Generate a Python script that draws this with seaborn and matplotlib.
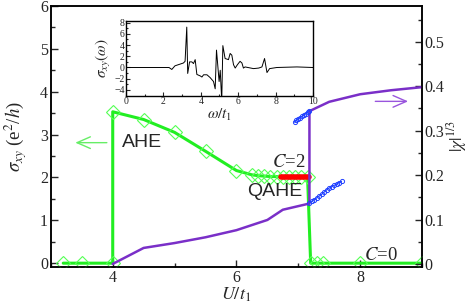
import matplotlib
matplotlib.use("Agg")
import matplotlib.pyplot as plt
import numpy as np
import pandas as pd
import seaborn as sns

sns.set_theme(style="ticks")
plt.rcParams["font.family"] = ["Liberation Serif", "DejaVu Serif"]
plt.rcParams["mathtext.fontset"] = "stix"
plt.rcParams["xtick.direction"] = "in"
plt.rcParams["ytick.direction"] = "in"

# sigma_xy vs U/t1 (left axis)
sig_U = [3.2, 3.5, 4.0, 4.0, 4.5, 5.0, 5.5, 6.0, 6.25, 6.35, 6.45, 6.55, 6.65,
         6.75, 6.85, 6.95, 7.05, 7.15, 7.2, 7.3, 7.4, 8.0, 9.0]
sig_v = [0, 0, 0, 3.53, 3.35, 3.05, 2.61, 2.16, 2.06, 2.04, 2.03, 2.02, 2.02,
         2.01, 2.01, 2.0, 2.0, 2.0, 0, 0, 0, 0, 0]
# QAHE plateau C=2
qahe_U = [6.72, 7.17]
qahe_v = [2.0, 2.0]

# |chi|^(1/3) (right axis)
chi_U = [4.0, 4.5, 5.0, 5.5, 6.0, 6.5, 6.75, 7.18, 7.18, 7.5, 8.0, 8.5, 9.0]
chi_v = [0.0, 0.036, 0.047, 0.060, 0.076, 0.099, 0.122, 0.136, 0.344, 0.365,
         0.382, 0.391, 0.398]
up_U = [6.94, 6.97, 7.0, 7.03, 7.06, 7.09, 7.12, 7.15, 7.18]
up_v = [0.319, 0.323, 0.326, 0.329, 0.332, 0.335, 0.338, 0.341, 0.344]
lo_U = [7.18, 7.22, 7.26, 7.30, 7.34, 7.38, 7.42, 7.46, 7.50, 7.54, 7.58,
        7.62, 7.66, 7.70]
lo_v = [0.137, 0.141, 0.145, 0.149, 0.153, 0.157, 0.162, 0.167, 0.171, 0.174,
        0.177, 0.180, 0.183, 0.186]

# inset sigma_xy(omega)
w = [0, 2.3, 2.45, 2.62, 3.07, 3.16, 3.25, 3.3, 3.4, 3.52, 3.61, 3.70, 3.79,
     3.97, 4.06, 4.15, 4.33, 4.5, 4.68, 4.77, 4.84, 4.98, 5.04, 5.12, 5.18,
     5.3, 5.48, 5.57, 5.66, 5.75, 5.84, 5.96, 6.1, 6.2, 6.28, 6.37, 6.82,
     7.1, 7.27, 7.41, 7.54, 7.68, 8.07, 9.14, 10]
s_w = [0, 0, -0.35, 0.3, 0.8, 1.1, 7.2, -1.06, 1.0, 1.0, 0.7, 1.4, -1.24,
       -1.5, -1.7, -1.3, -1.3, -1.8, -2.5, -3.8, 3.1, -2.5, -0.5, -6.0, 3.9,
       1.6, 1.4, 2.5, 2.2, 0.5, -0.1, 0.5, 1.1, 0.8, -0.1, 0.1, -0.2,
       -0.1, 0.1, 1.6, -0.9, -0.2, 0, 0.1, 0]

green = "#22ee22"
purple = "#7a2fc8"

fig = plt.figure(figsize=(4.71, 3.08), dpi=100)
ax = fig.add_axes([0.108, 0.133, 0.788, 0.848])
ax2 = ax.twinx()

sns.lineplot(x=sig_U, y=sig_v, ax=ax, sort=False, estimator=None, color=green,
             linewidth=2.2, marker="D", markersize=7.5, mfc="none",
             mec="#55ff55", mew=0.8, zorder=3)
sns.lineplot(x=qahe_U, y=qahe_v, ax=ax, sort=False, estimator=None,
             color="red", linewidth=4, zorder=4)

sns.lineplot(x=chi_U, y=chi_v, ax=ax2, sort=False, estimator=None,
             color=purple, linewidth=1.8, zorder=2)
for xx, yy in [(up_U, up_v), (lo_U, lo_v)]:
    sns.lineplot(x=xx, y=yy, ax=ax2, sort=False, estimator=None, color="#2040ff",
                 linewidth=0.8, marker="o", markersize=3, mfc="none",
                 mec="#2040ff", mew=0.7, zorder=3)

ax.set_xlim(3, 9)
ax.set_ylim(-0.09, 6)
ax2.set_ylim(-0.007, 0.581)
ax.set_xticks([4, 6, 8])
ax.set_xticks([3, 5, 7, 9], minor=True)
ax.set_yticks(range(7))
ax.set_yticks(np.arange(0.5, 6, 1.0), minor=True)
ax2.set_yticks([0, 0.1, 0.2, 0.3, 0.4, 0.5])
ax2.set_yticklabels(["0", "0.1", "0.2", "0.3", "0.4", "0.5"])
ax2.set_yticks(np.arange(0.05, 0.58, 0.1), minor=True)
ax.tick_params(which="major", length=5, width=1, labelsize=11.5, pad=2,
               right=False, top=False)
ax.tick_params(which="minor", length=3, width=1, right=False, top=False)
ax2.tick_params(which="major", length=5, width=1, labelsize=11.5, pad=2)
ax2.tick_params(which="minor", length=3, width=1)
for a in (ax, ax2):
    for sp in a.spines.values():
        sp.set_linewidth(1.1)
        sp.set_color("black")

ax.set_xlabel(r"$U/t_1$", fontsize=13, labelpad=0)
ax.set_ylabel(r"$\sigma_{xy}$ (e$^2$/$h$)", fontsize=13.5)
ax.yaxis.set_label_coords(-0.058, 0.5)
ax2.set_ylabel(r"$|\chi|^{1/3}$", fontsize=12.5)
ax2.yaxis.set_label_coords(1.063, 0.5)

ax.annotate("", xy=(3.35, 2.81), xytext=(3.95, 2.81),
            arrowprops=dict(arrowstyle="->,head_length=0.8,head_width=0.35",
                            color="#66ee66", lw=1))
ax2.annotate("", xy=(8.82, 0.366), xytext=(8.2, 0.366),
             arrowprops=dict(arrowstyle="->,head_length=0.8,head_width=0.35",
                             color="#9955dd", lw=1))
ax.text(4.15, 2.81, "AHE", family="Liberation Sans", fontsize=14, va="center")
ax.text(6.18, 1.66, "QAHE", family="Liberation Sans", fontsize=14, va="center")
ax.text(6.57, 2.34, r"$C$=2", fontsize=13.5, va="center")
ax.text(8.06, 0.19, r"$C$=0", fontsize=13.5, va="center")

ins = fig.add_axes([0.2675, 0.688, 0.397, 0.244])
sns.lineplot(x=w, y=s_w, ax=ins, sort=False, estimator=None, color="black",
             linewidth=0.7)
ins.set_xlim(0, 10)
ins.set_ylim(-5.1, 8.3)
ins.set_xticks(range(0, 11, 2))
ins.set_xticks(range(1, 10, 2), minor=True)
ins.set_yticks(range(-4, 9, 2))
ins.set_yticks(range(-3, 8, 2), minor=True)
ins.tick_params(which="major", length=3, width=0.8, labelsize=7, pad=1)
ins.tick_params(which="minor", length=1.5, width=0.8)
for sp in ins.spines.values():
    sp.set_linewidth(1)
    sp.set_color("black")
ins.set_xlabel(r"$\omega/t_1$", fontsize=11, labelpad=0)
ins.set_ylabel(r"$\sigma_{xy}(\omega)$", fontsize=11, labelpad=1)

fig.savefig("out.png", dpi=100)
